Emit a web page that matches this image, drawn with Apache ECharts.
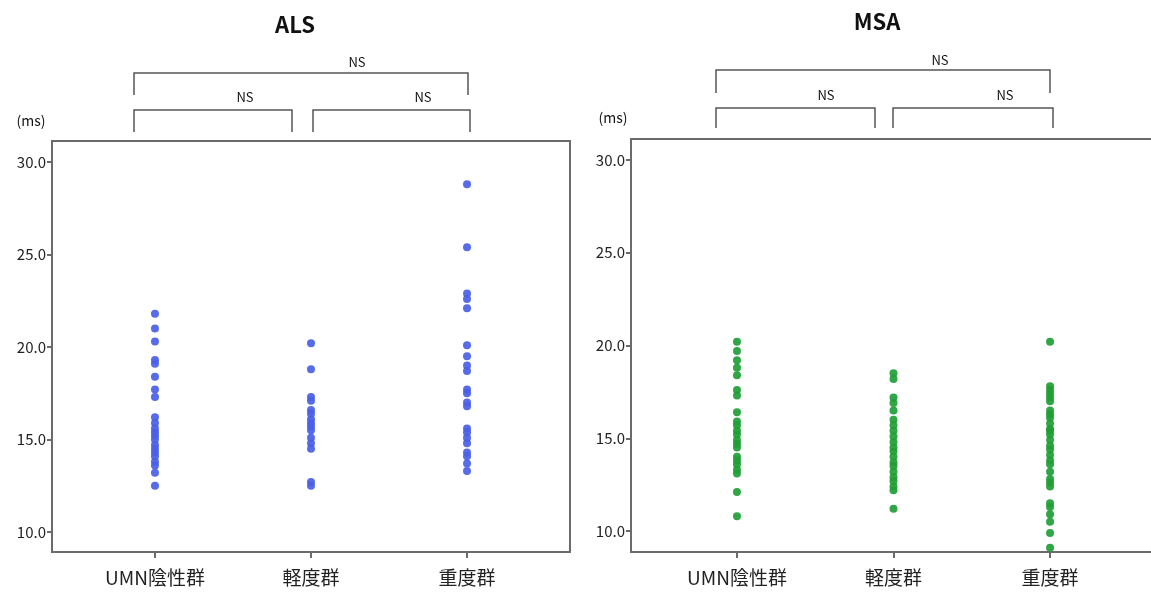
<!DOCTYPE html>
<html>
<head>
<meta charset="utf-8">
<script src="https://cdn.jsdelivr.net/npm/echarts@6/dist/echarts.min.js"></script>
<style>
  html, body { margin: 0; padding: 0; background: #fff; }
  #chart { width: 1151px; height: 592px; }
</style>
</head>
<body>
<div id="chart"></div>
<script>
// Group names along the x axis
const groups = ['UMN陰性群', '軽度群', '重度群'];
// Y axis tick values (ms)
const yTicks = [10, 15, 20, 25, 30];

// ALS values (ms) per group
const alsUmnNegative = [21.8, 21.0, 20.3, 19.3, 19.1, 18.4, 17.7, 17.3, 16.2, 15.9, 15.6, 15.4, 15.2, 15.0, 14.7, 14.5, 14.3, 14.1, 13.8, 13.6, 13.2, 12.5];
const alsMild = [20.2, 18.8, 17.3, 17.1, 16.6, 16.4, 16.1, 15.9, 15.7, 15.5, 15.1, 14.8, 14.5, 12.7, 12.5];
const alsSevere = [28.8, 25.4, 22.9, 22.6, 22.1, 20.1, 19.5, 19.0, 18.7, 17.7, 17.5, 17.0, 16.8, 15.6, 15.4, 15.1, 14.8, 14.3, 14.1, 13.7, 13.3];

// MSA values (ms) per group
const msaUmnNegative = [20.2, 19.7, 19.2, 18.8, 18.4, 17.6, 17.3, 16.4, 15.9, 15.7, 15.4, 15.2, 14.9, 14.7, 14.5, 14.0, 13.8, 13.6, 13.3, 13.1, 12.1, 10.8];
const msaMild = [18.5, 18.2, 17.2, 16.9, 16.5, 16.0, 15.7, 15.4, 15.1, 14.8, 14.5, 14.3, 14.0, 13.7, 13.5, 13.2, 12.9, 12.7, 12.4, 12.2, 11.2];
const msaSevere = [20.2, 17.8, 17.6, 17.4, 17.2, 17.0, 16.5, 16.3, 16.1, 15.8, 15.5, 15.4, 15.2, 14.9, 14.6, 14.4, 14.1, 13.8, 13.6, 13.2, 12.8, 12.6, 12.4, 11.5, 11.3, 10.9, 10.5, 9.9, 9.1];

const FONT = '"Noto Sans CJK JP", "Noto Sans", sans-serif';
const AXIS_COLOR = '#6b6b6b';
const ALS_COLOR = '#4a5ee6';
const MSA_COLOR = '#1f9e35';

// turn per-group arrays into [groupPosition, value] points
function toPoints(lists) {
  const pts = [];
  lists.forEach((vals, gi) => vals.forEach(v => pts.push([gi + 1, v])));
  return pts;
}

function xAxisFor(gridIndex, min, max) {
  return {
    type: 'value', gridIndex, min, max,
    splitLine: { show: false },
    axisLine: { show: true, lineStyle: { color: AXIS_COLOR, width: 2 } },
    axisTick: { show: true, customValues: [1, 2, 3], length: 6, lineStyle: { color: AXIS_COLOR, width: 2 } },
    axisLabel: {
      customValues: [1, 2, 3],
      formatter: v => groups[Math.round(v) - 1] || '',
      color: '#222', fontSize: 19, fontFamily: FONT, margin: 16
    }
  };
}

// top edge of a plot frame, drawn as a bare axis line
function topEdgeFor(gridIndex, min, max) {
  return {
    type: 'value', gridIndex, min, max, position: 'top',
    splitLine: { show: false }, axisTick: { show: false }, axisLabel: { show: false },
    axisLine: { show: true, lineStyle: { color: AXIS_COLOR, width: 2 } }
  };
}

function yAxisFor(gridIndex, min, max) {
  return {
    type: 'value', gridIndex, min, max,
    splitLine: { show: false },
    axisLine: { show: true, lineStyle: { color: AXIS_COLOR, width: 2 } },
    axisTick: { show: true, customValues: yTicks, length: 5, lineStyle: { color: AXIS_COLOR, width: 2 } },
    axisLabel: {
      customValues: yTicks,
      formatter: v => v.toFixed(1),
      color: '#222', fontSize: 15, fontFamily: FONT, margin: 6
    }
  };
}

function bracket(x1, x2, yTop, yBottom) {
  return {
    type: 'polyline',
    shape: { points: [[x1, yBottom], [x1, yTop], [x2, yTop], [x2, yBottom]] },
    style: { stroke: '#555', lineWidth: 1.5, fill: null }
  };
}

function label(text, x, y, size, bold) {
  return {
    type: 'text', x, y,
    style: {
      text, fill: '#111', fontSize: size, fontFamily: FONT,
      fontWeight: bold ? 'bold' : 'normal', align: 'center', verticalAlign: 'middle'
    }
  };
}

const chart = echarts.init(document.getElementById('chart'), null, { renderer: 'canvas' });

chart.setOption({
  animation: false,
  backgroundColor: '#fff',
  grid: [
    { left: 52, top: 141, width: 518, height: 411, show: true, borderColor: AXIS_COLOR, borderWidth: 2, backgroundColor: 'transparent' },
    // MSA frame runs past the right edge of the page
    { left: 631, top: 139, right: 0, height: 413, show: false }
  ],
  xAxis: [xAxisFor(0, 0.34, 3.66), xAxisFor(1, 0.323, 3.645), topEdgeFor(1, 0.323, 3.645)],
  yAxis: [yAxisFor(0, 8.92, 31.14), yAxisFor(1, 8.87, 31.13)],
  series: [
    {
      type: 'scatter', xAxisIndex: 0, yAxisIndex: 0,
      data: toPoints([alsUmnNegative, alsMild, alsSevere]),
      symbolSize: 8,
      itemStyle: { color: ALS_COLOR, opacity: 0.92 }
    },
    {
      type: 'scatter', xAxisIndex: 1, yAxisIndex: 1,
      data: toPoints([msaUmnNegative, msaMild, msaSevere]),
      symbolSize: 8,
      itemStyle: { color: MSA_COLOR, opacity: 0.92 }
    }
  ],
  graphic: [
    label('ALS', 295, 25, 22, true),
    label('MSA', 877, 22, 22, true),
    label('(ms)', 31, 121, 14, false),
    label('(ms)', 613, 118, 14, false),
    // ALS significance brackets
    bracket(134, 468, 73, 95),
    label('NS', 357, 62, 13, false),
    bracket(134, 292, 110, 132),
    label('NS', 245, 97, 13, false),
    bracket(313, 470, 110, 132),
    label('NS', 423, 97, 13, false),
    // MSA significance brackets
    bracket(716, 1050, 70, 93),
    label('NS', 940, 60, 13, false),
    bracket(716, 875, 108, 128),
    label('NS', 826, 95, 13, false),
    bracket(893, 1053, 108, 128),
    label('NS', 1005, 95, 13, false)
  ]
});
</script>
</body>
</html>
